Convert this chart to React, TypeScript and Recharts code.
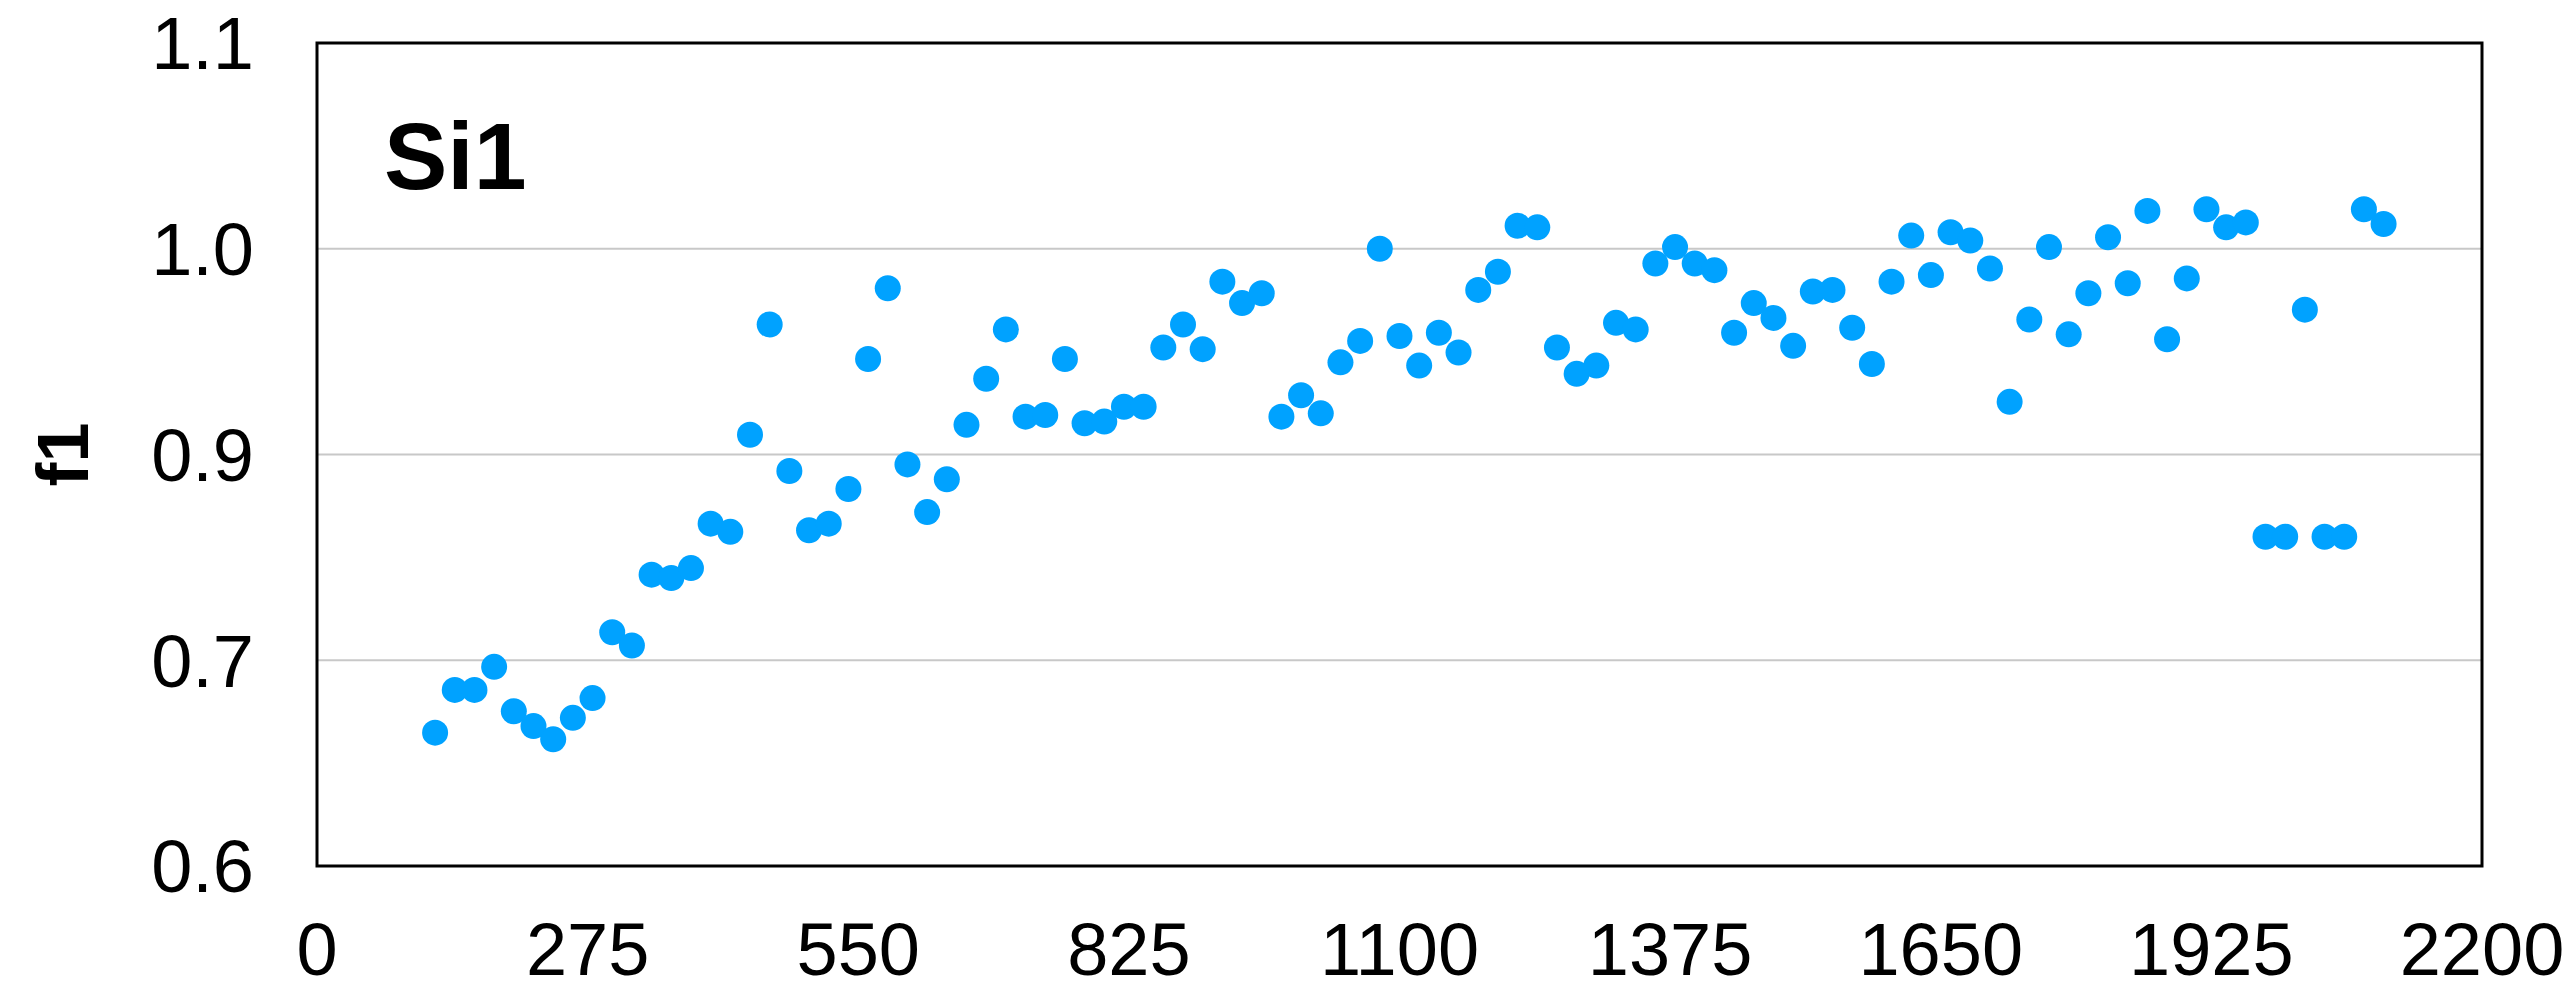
import React from 'react';
import { ScatterChart, Scatter, XAxis, YAxis, CartesianGrid, ReferenceArea, Label } from 'recharts';

const positions = [
  120, 140, 160, 180, 200, 220, 240, 260, 280, 300,
  320, 340, 360, 380, 400, 420, 440, 460, 480, 500,
  520, 540, 560, 580, 600, 620, 640, 660, 680, 700,
  720, 740, 760, 780, 800, 820, 840, 860, 880, 900,
  920, 940, 960, 980, 1000, 1020, 1040, 1060, 1080, 1100,
  1120, 1140, 1160, 1180, 1200, 1220, 1240, 1260, 1280, 1300,
  1320, 1340, 1360, 1380, 1400, 1420, 1440, 1460, 1480, 1500,
  1520, 1540, 1560, 1580, 1600, 1620, 1640, 1660, 1680, 1700,
  1720, 1740, 1760, 1780, 1800, 1820, 1840, 1860, 1880, 1900,
  1920, 1940, 1960, 1980, 2000, 2020, 2040, 2060, 2080, 2100,
];

const f1Values = [
  0.681, 0.707, 0.707, 0.721, 0.694, 0.685, 0.677, 0.690, 0.702, 0.742,
  0.734, 0.777, 0.775, 0.781, 0.808, 0.803, 0.862, 0.929, 0.840, 0.804,
  0.808, 0.829, 0.908, 0.951, 0.844, 0.815, 0.835, 0.868, 0.896, 0.926,
  0.873, 0.874, 0.908, 0.869, 0.870, 0.879, 0.879, 0.915, 0.929, 0.914,
  0.955, 0.942, 0.948, 0.873, 0.886, 0.875, 0.906, 0.919, 0.975, 0.922,
  0.904, 0.924, 0.912, 0.950, 0.961, 0.989, 0.988, 0.915, 0.899, 0.904,
  0.930, 0.926, 0.966, 0.976, 0.966, 0.962, 0.924, 0.942, 0.933, 0.916,
  0.949, 0.950, 0.927, 0.905, 0.955, 0.983, 0.959, 0.985, 0.980, 0.963,
  0.882, 0.932, 0.976, 0.923, 0.948, 0.982, 0.954, 0.998, 0.920, 0.957,
  0.999, 0.988, 0.991, 0.800, 0.800, 0.938, 0.800, 0.800, 0.999, 0.990,
];

const xTicks = [0, 275, 550, 825, 1100, 1375, 1650, 1925, 2200];
const yTicks = [0.6, 0.725, 0.85, 0.975, 1.1];
const yTickLabels = ['0.6', '0.7', '0.9', '1.0', '1.1'];

const data = positions.map((x, i) => ({ x, f1: f1Values[i] }));

const FONT = '"Liberation Sans", Arial, Helvetica, sans-serif';
const DOT = '#00a2ff';

const tickStyle = { fontSize: 74, fill: '#000', fontFamily: FONT };

function YTitle(props: any) {
  const vb = props.viewBox;
  const cx = vb.x + 55;
  const cy = vb.y + vb.height / 2;
  return (
    <text
      x={cx}
      y={cy}
      transform={`rotate(-90, ${cx}, ${cy})`}
      textAnchor="middle"
      dominantBaseline="central"
      fontFamily={FONT}
      fontWeight="bold"
      fontSize={72}
      fill="#000"
    >
      f1
    </text>
  );
}

function PanelTitle(props: any) {
  const vb = props.viewBox;
  return (
    <text
      x={vb.x + vb.width + 67}
      y={vb.y + 146}
      fontFamily={FONT}
      fontWeight="bold"
      fontSize={95}
      fill="#000"
    >
      Si1
    </text>
  );
}

export default function App() {
  return (
    <div style={{ width: 2560, height: 986, fontFamily: FONT }}>
      <ScatterChart
        width={2560}
        height={986}
        margin={{ top: 35, right: 86, bottom: 0, left: 0 }}
        style={{ overflow: 'visible' }}
      >
        <CartesianGrid vertical={false} stroke="#c8c8c8" strokeWidth={2} />
        <XAxis
          type="number"
          dataKey="x"
          domain={[0, 2200]}
          ticks={xTicks}
          interval={0}
          axisLine={false}
          tickLine={false}
          tickSize={0}
          tickMargin={56}
          height={128}
          tick={tickStyle}
        />
        <YAxis
          type="number"
          dataKey="f1"
          domain={[0.6, 1.1]}
          ticks={yTicks}
          interval={0}
          tickFormatter={(v: number) => yTickLabels[yTicks.indexOf(v)] ?? String(v)}
          axisLine={false}
          tickLine={false}
          tickSize={0}
          tickMargin={63}
          width={309}
          tick={tickStyle}
        >
          <Label content={YTitle} />
          <Label content={PanelTitle} />
        </YAxis>
        <ReferenceArea
          x1={0}
          x2={2200}
          y1={0.6}
          y2={1.1}
          fill="none"
          stroke="#000"
          strokeWidth={3}
          ifOverflow="visible"
        />
        <Scatter
          data={data}
          isAnimationActive={false}
          shape={(p: any) => <circle cx={p.cx} cy={p.cy} r={13} fill={DOT} />}
        />
      </ScatterChart>
    </div>
  );
}
